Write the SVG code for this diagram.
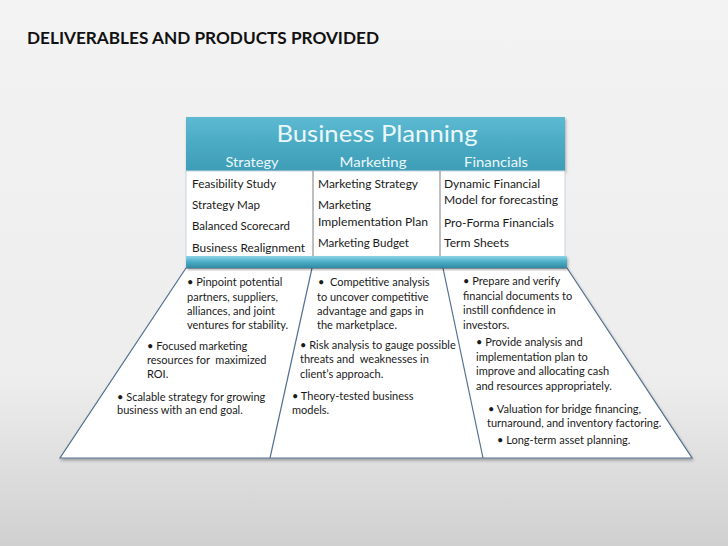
<svg xmlns="http://www.w3.org/2000/svg" width="728" height="546" viewBox="0 0 728 546">
<defs>
<linearGradient id="bg" x1="0" y1="0" x2="0" y2="1">
<stop offset="0" stop-color="#f3f3f3"/>
<stop offset="0.7" stop-color="#ededed"/>
<stop offset="1" stop-color="#d0d0d0"/>
</linearGradient>
<linearGradient id="teal" x1="0" y1="0" x2="0" y2="1">
<stop offset="0" stop-color="#5dbad2"/>
<stop offset="0.5" stop-color="#4aaac3"/>
<stop offset="1" stop-color="#3e9db7"/>
</linearGradient>
<linearGradient id="bar" x1="0" y1="0" x2="0" y2="1">
<stop offset="0" stop-color="#8fd3e6"/>
<stop offset="0.45" stop-color="#4fb0c9"/>
<stop offset="1" stop-color="#2f8aa3"/>
</linearGradient>
<filter id="sh" x="-10%" y="-10%" width="120%" height="130%">
<feDropShadow dx="1" dy="2" stdDeviation="1.5" flood-color="#000" flood-opacity="0.3"/>
</filter>
</defs>
<style>
text{font-family:Lato,"Liberation Sans",sans-serif;white-space:pre}
.title{font-weight:bold;font-size:17px;fill:#111}
.hd{fill:#eaf7fb}
.cell{font-size:12px;fill:#1a1a1a}
.lo{font-size:11px;fill:#1a1a1a}
.edge{fill:none;stroke:#55708f;stroke-width:1.2}
</style>
<rect width="728" height="546" fill="url(#bg)"/>
<text class="title" x="27" y="44" textLength="352" lengthAdjust="spacingAndGlyphs">DELIVERABLES AND PRODUCTS PROVIDED</text>

<g id="trapezoid">
<polygon points="186,268 567,268 692,458 60,458" fill="#fff" stroke="#55708f" stroke-width="1.2" filter="url(#sh)"/>
</g>
<g id="connectors">
<line class="edge" x1="312" y1="268" x2="270" y2="458"/>
<line class="edge" x1="443" y1="268" x2="483" y2="458"/>
</g>

<g id="header">
<rect x="186" y="117" width="379" height="54" fill="url(#teal)" filter="url(#sh)"/>
<text class="hd" x="377" y="142" font-size="24" text-anchor="middle" textLength="201" lengthAdjust="spacingAndGlyphs">Business Planning</text>
<text class="hd" x="252" y="167" font-size="14" text-anchor="middle" textLength="53" lengthAdjust="spacingAndGlyphs">Strategy</text>
<text class="hd" x="373" y="167" font-size="14" text-anchor="middle" textLength="67" lengthAdjust="spacingAndGlyphs">Marketing</text>
<text class="hd" x="496" y="167" font-size="14" text-anchor="middle" textLength="64" lengthAdjust="spacingAndGlyphs">Financials</text>
</g>

<g id="table">
<rect x="186" y="171" width="379" height="86" fill="#fff" stroke="#c8d3dc" stroke-width="1"/>
<line x1="313" y1="171" x2="313" y2="257" stroke="#7f7f7f" stroke-width="1"/>
<line x1="440" y1="171" x2="440" y2="257" stroke="#7f7f7f" stroke-width="1"/>
</g>

<g id="strategy">
<text class="cell" x="192" y="188" textLength="84" lengthAdjust="spacingAndGlyphs">Feasibility Study</text>
<text class="cell" x="192" y="209" textLength="68" lengthAdjust="spacingAndGlyphs">Strategy Map</text>
<text class="cell" x="192" y="230" textLength="98" lengthAdjust="spacingAndGlyphs">Balanced Scorecard</text>
<text class="cell" x="192" y="252" textLength="113" lengthAdjust="spacingAndGlyphs">Business Realignment</text>
</g>
<g id="marketing">
<text class="cell" x="318" y="188" textLength="100" lengthAdjust="spacingAndGlyphs">Marketing Strategy</text>
<text class="cell" x="318" y="209" textLength="53" lengthAdjust="spacingAndGlyphs">Marketing</text>
<text class="cell" x="318" y="226" textLength="110" lengthAdjust="spacingAndGlyphs">Implementation Plan</text>
<text class="cell" x="318" y="247" textLength="91" lengthAdjust="spacingAndGlyphs">Marketing Budget</text>
</g>
<g id="financials">
<text class="cell" x="444" y="188" textLength="96" lengthAdjust="spacingAndGlyphs">Dynamic Financial</text>
<text class="cell" x="444" y="204" textLength="114" lengthAdjust="spacingAndGlyphs">Model for forecasting</text>
<text class="cell" x="444" y="227" textLength="110" lengthAdjust="spacingAndGlyphs">Pro-Forma Financials</text>
<text class="cell" x="444" y="247" textLength="65" lengthAdjust="spacingAndGlyphs">Term Sheets</text>
</g>

<g id="bar">
<rect x="186" y="256" width="381" height="12" rx="1" fill="url(#bar)" filter="url(#sh)"/>
</g>

<g id="strategy-deliverables">
<text class="lo" x="187" y="286">• Pinpoint potential</text>
<text class="lo" x="187" y="301">partners, suppliers,</text>
<text class="lo" x="187" y="315">alliances, and joint</text>
<text class="lo" x="187" y="329">ventures for stability.</text>
<text class="lo" x="147" y="350">• Focused marketing</text>
<text class="lo" x="147" y="364">resources for  maximized</text>
<text class="lo" x="147" y="378">ROI.</text>
<text class="lo" x="117" y="401">• Scalable strategy for growing</text>
<text class="lo" x="117" y="414">business with an end goal.</text>
</g>
<g id="marketing-deliverables">
<text class="lo" x="318" y="286">•  Competitive analysis</text>
<text class="lo" x="317" y="301">to uncover competitive</text>
<text class="lo" x="317" y="315">advantage and gaps in</text>
<text class="lo" x="317" y="329">the marketplace.</text>
<text class="lo" x="300" y="349">• Risk analysis to gauge possible</text>
<text class="lo" x="300" y="363">threats and  weaknesses in</text>
<text class="lo" x="300" y="378">client’s approach.</text>
<text class="lo" x="292" y="400">• Theory-tested business</text>
<text class="lo" x="292" y="414">models.</text>
</g>
<g id="financial-deliverables">
<text class="lo" x="463" y="285">• Prepare and verify</text>
<text class="lo" x="463" y="300">financial documents to</text>
<text class="lo" x="463" y="314">instill confidence in</text>
<text class="lo" x="463" y="329">investors.</text>
<text class="lo" x="476" y="346">• Provide analysis and</text>
<text class="lo" x="476" y="361">implementation plan to</text>
<text class="lo" x="476" y="375">improve and allocating cash</text>
<text class="lo" x="476" y="390">and resources appropriately.</text>
<text class="lo" x="488" y="413">• Valuation for bridge financing,</text>
<text class="lo" x="487" y="427">turnaround, and inventory factoring.</text>
<text class="lo" x="497" y="444">• Long-term asset planning.</text>
</g>
</svg>
